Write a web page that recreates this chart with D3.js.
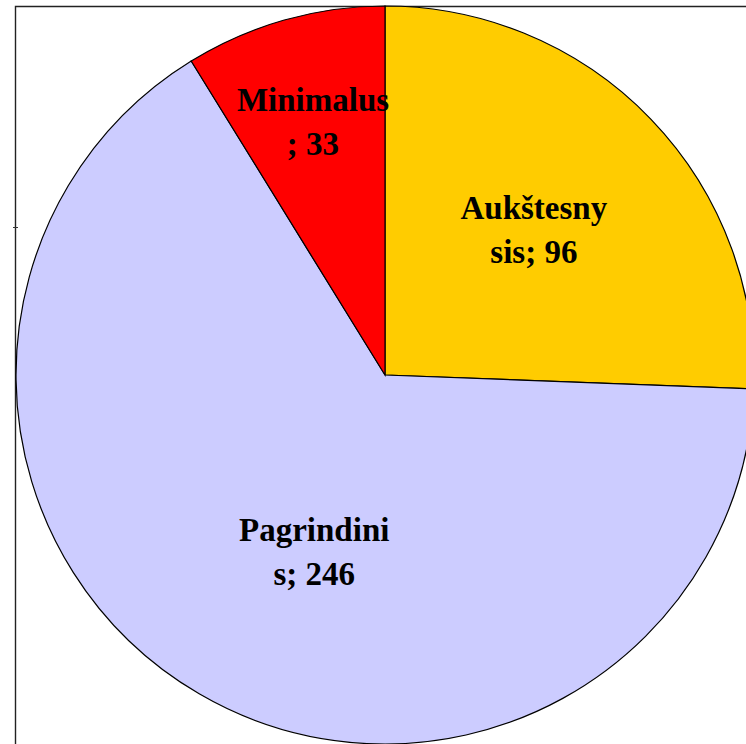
<!DOCTYPE html>
<html>
<head>
<meta charset="UTF-8">
<title></title>
<style>
  body { margin: 0; background: #fff; }
</style>
</head>
<body>
<div id="svg"></div>
<script src="https://d3js.org/d3.v7.min.js"></script>
<script>
var categories = ['Aukštesnysis', 'Pagrindinis', 'Minimalus'];
var values = [96, 246, 33];
var labelLines = [['Aukštesny', 'sis; 96'], ['Pagrindini', 's; 246'], ['Minimalus', '; 33']];
var colors = ['#ffcc00', '#ccccff', '#ff0000'];

var width = 746, height = 744;
var cx = 385, cy = 375, radius = 369;

var svg = d3.select('#svg').append('svg')
    .attr('width', width)
    .attr('height', height);

// plot area frame (only left and top edges are visible)
svg.append('path')
    .attr('d', 'M15.5,' + height + 'V6.5H' + width)
    .attr('fill', 'none')
    .attr('stroke', '#222')
    .attr('stroke-width', 1.4);
svg.append('line')
    .attr('x1', 13).attr('x2', 18)
    .attr('y1', 227.5).attr('y2', 227.5)
    .attr('stroke', '#333');

var data = categories.map(function(c, i) {
    return { name: c, value: values[i], lines: labelLines[i], color: colors[i] };
});

var pie = d3.pie().sort(null).value(function(d) { return d.value; })(data);

var arc = d3.arc().innerRadius(0).outerRadius(radius);

var g = svg.append('g').attr('transform', 'translate(' + cx + ',' + cy + ')');

g.selectAll('path.slice')
    .data(pie)
    .join('path')
    .attr('class', 'slice')
    .attr('d', arc)
    .attr('fill', function(d) { return d.data.color; })
    .attr('stroke', '#000')
    .attr('stroke-width', 1.2);

// label placement like the original: fraction of radius along the slice, plus a small nudge
var labelArcK = { 'Aukštesnysis': 0.56, 'Pagrindinis': 0.51, 'Minimalus': 0.715 };
var nudge = { 'Aukštesnysis': [0, -2], 'Pagrindinis': [24, 14], 'Minimalus': [0, 1] };

var lineH = 44;
var labels = g.selectAll('text.lbl')
    .data(pie)
    .join('text')
    .attr('class', 'lbl')
    .attr('text-anchor', 'middle')
    .attr('font-family', '"Liberation Serif", "Times New Roman", serif')
    .attr('font-weight', 'bold')
    .attr('font-size', 33)
    .attr('fill', '#000')
    .attr('transform', function(d) {
        var a = (d.startAngle + d.endAngle) / 2;
        var r = radius * labelArcK[d.data.name];
        var n = nudge[d.data.name];
        return 'translate(' + (Math.sin(a) * r + n[0]) + ',' + (-Math.cos(a) * r + n[1]) + ')';
    });

labels.selectAll('tspan')
    .data(function(d) { return d.data.lines; })
    .join('tspan')
    .attr('x', 0)
    .attr('y', function(t, i, nodes) { return (i - (nodes.length - 1) / 2) * lineH + 11; })
    .text(function(t) { return t; });
</script>
</body>
</html>
